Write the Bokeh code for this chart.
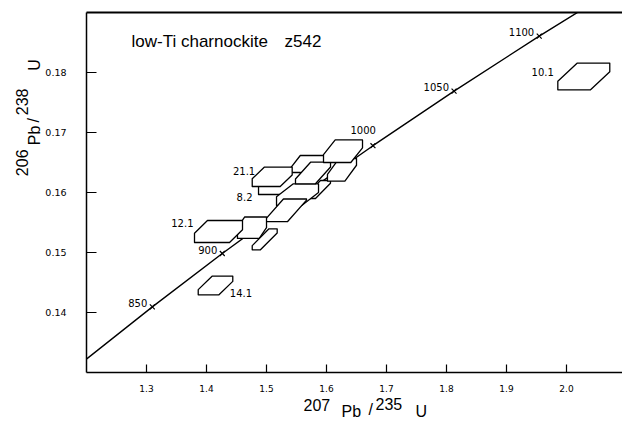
import math
from bokeh.plotting import figure
from bokeh.layouts import row, column
from bokeh.models import LinearAxis, FixedTicker, PrintfTickFormatter, Label, Range1d
from bokeh.core.properties import value
from bokeh.embed import file_html
from bokeh.resources import INLINE

# ---------------- data ----------------
# Concordia curve (age in Ma) and its ratios
conc_age = [750, 800, 850, 900, 950, 1000, 1050, 1100, 1150]
conc_pb207_u235 = [1.09308, 1.19873, 1.30971, 1.42630, 1.54876, 1.67741, 1.81255, 1.95452, 2.10364]
conc_pb206_u238 = [0.12338, 0.13213, 0.14094, 0.14983, 0.15878, 0.16780, 0.17690, 0.18606, 0.19530]
marked_ages = [850, 900, 1000, 1050, 1100]

# Zircon spots (drawn back to front); error boxes: centre, half widths, corner cut fractions
spot_label = ["", "8.2", "", "", "", "", "", "21.1", "", "", "12.1", "", "14.1", "10.1"]
spot_pb207_u235 = [1.5683, 1.5217, 1.5858, 1.5517, 1.5775, 1.6258, 1.6275, 1.5095, 1.5317, 1.4758, 1.4200, 1.4970, 1.4150, 2.0288]
spot_pb206_u238 = [0.16425, 0.16150, 0.16050, 0.15964, 0.16325, 0.16379, 0.16688, 0.16261, 0.15704, 0.15413, 0.15350, 0.15220, 0.14450, 0.17933]
spot_err_x = [0.0300, 0.0350, 0.0208, 0.0350, 0.0292, 0.0242, 0.0325, 0.0333, 0.0350, 0.0242, 0.0400, 0.0208, 0.0288, 0.0433]
spot_err_y = [0.00192, 0.00183, 0.00150, 0.00181, 0.00180, 0.00188, 0.00188, 0.00161, 0.00188, 0.00179, 0.00183, 0.00175, 0.00155, 0.00222]
spot_cut_x = [0.30, 0.30, 0.60, 0.40, 0.43, 0.40, 0.30, 0.30, 0.45, 0.25, 0.27, 0.67, 0.40, 0.37]
spot_cut_y = [0.60, 0.60, 0.85, 0.60, 0.78, 0.70, 0.65, 0.60, 0.95, 0.50, 0.58, 0.80, 0.72, 0.68]

x_ticks = [1.3, 1.4, 1.5, 1.6, 1.7, 1.8, 1.9, 2.0]
y_ticks = [0.14, 0.15, 0.16, 0.17, 0.18]

title_text = ["low-Ti charnockite", "z542"]
x_title = ["207", "Pb", "/", "235", "U"]
y_title = ["206", "Pb", "/", "238", "U"]

# ---------------- layout geometry (canvas px) ----------------
W, H = 622, 421
LEFT_W = 42            # strip for the y title
MAIN_H = 396           # main plot height; strip below for the x title
FL, FT, FB = 86, 12, 372  # frame left / top / bottom in canvas px

def bare(width, height, xr, yr):
    f = figure(width=width, height=height, output_backend="svg", toolbar_location=None,
               x_range=Range1d(*xr), y_range=Range1d(*yr), x_axis_type=None, y_axis_type=None,
               min_border=0, min_border_left=0, min_border_right=0, min_border_top=0, min_border_bottom=0)
    f.outline_line_color = None
    f.background_fill_color = "white"
    f.border_fill_color = "white"
    return f

# ---------------- main plot ----------------
p = figure(width=W - LEFT_W, height=MAIN_H, output_backend="svg", toolbar_location=None,
           x_range=Range1d(1.2, 2.0933), y_range=Range1d(0.13, 0.19),
           x_axis_type=None, y_axis_type=None,
           min_border_left=FL - LEFT_W, min_border_right=0, min_border_top=FT,
           min_border_bottom=MAIN_H - FB)
p.outline_line_color = None
p.background_fill_color = "white"
p.border_fill_color = "white"

xaxis = LinearAxis(ticker=FixedTicker(ticks=x_ticks), formatter=PrintfTickFormatter(format="%.1f"))
xaxis.major_tick_in = 8
xaxis.major_tick_out = 0
xaxis.minor_tick_in = 0
xaxis.minor_tick_out = 0
xaxis.major_label_standoff = 12
xaxis.major_label_text_font = "DejaVu Sans"
xaxis.major_label_text_font_size = "9px"
xaxis.major_label_text_color = "black"
xaxis.axis_line_width = 1.5
xaxis.major_tick_line_width = 1.2
p.add_layout(xaxis, "below")

yaxis = LinearAxis(ticker=FixedTicker(ticks=y_ticks), formatter=PrintfTickFormatter(format="%.2f"))
yaxis.major_tick_in = 10
yaxis.major_tick_out = 0
yaxis.minor_tick_in = 0
yaxis.minor_tick_out = 0
yaxis.major_label_standoff = 20
yaxis.major_label_orientation = "horizontal"
yaxis.major_label_text_font = "DejaVu Sans"
yaxis.major_label_text_font_size = "9.5px"
yaxis.major_label_text_color = "black"
yaxis.axis_line_width = 1.5
yaxis.major_tick_line_width = 1.2
p.add_layout(yaxis, "left")

top = LinearAxis(ticker=FixedTicker(ticks=[]))
top.major_tick_in = 0
top.major_tick_out = 0
top.minor_tick_in = 0
top.minor_tick_out = 0
top.major_label_text_font_size = "0px"
top.major_label_standoff = 0
top.axis_line_width = 2
p.add_layout(top, "above")

# concordia
p.line(conc_pb207_u235, conc_pb206_u238, line_color="black", line_width=1.4)

idx = [conc_age.index(a) for a in marked_ages]
mx = [conc_pb207_u235[i] for i in idx]
my = [conc_pb206_u238[i] for i in idx]
p.scatter(mx, my, marker="x", size=7, line_color="black", line_width=1.2)

std = [k for k, a in enumerate(marked_ages) if a != 1000]
p.text([mx[k] for k in std], [my[k] for k in std], text=[str(marked_ages[k]) for k in std],
       text_font=value("DejaVu Sans"), text_font_size="10px", text_color="black",
       text_align="right", text_baseline="middle", x_offset=-5, y_offset=-4)
k1000 = marked_ages.index(1000)
p.text([mx[k1000]], [my[k1000]], text=["1000"],
       text_font=value("DejaVu Sans"), text_font_size="10px", text_color="black",
       text_align="right", text_baseline="middle", x_offset=3, y_offset=-16)

# error boxes (hexagons: rectangle with top-left and bottom-right corners cut)
xs, ys = [], []
for xc, yc, ex, ey, fx, fy in zip(spot_pb207_u235, spot_pb206_u238, spot_err_x, spot_err_y, spot_cut_x, spot_cut_y):
    x0, x1, y0, y1 = xc - ex, xc + ex, yc - ey, yc + ey
    a = fx * 2 * ex
    v = fy * 2 * ey
    xs.append([x0 + a, x1, x1, x1 - a, x0, x0])
    ys.append([y1, y1, y0 + v, y0, y0, y1 - v])
p.patches(xs, ys, fill_color="white", line_color="black", line_width=1.3, line_join="round")

# spot labels
placement = {
    "21.1": ("x0", "y1", "right", 3, 4),
    "8.2": ("x0", "y0", "right", -6, 3),
    "12.1": ("x0", "y1", "right", -1, 2),
    "14.1": ("x1", "y0", "left", -3, -2),
    "10.1": ("x0", "y1", "right", -4, 9),
}
for i, lab in enumerate(spot_label):
    if not lab:
        continue
    cx, cy, al, xo, yo = placement[lab]
    xc, yc, ex, ey = spot_pb207_u235[i], spot_pb206_u238[i], spot_err_x[i], spot_err_y[i]
    lx = xc - ex if cx == "x0" else xc + ex
    ly = yc + ey if cy == "y1" else yc - ey
    p.text([lx], [ly], text=[lab], text_font=value("DejaVu Sans"), text_font_size="10px",
           text_color="black", text_align=al, text_baseline="middle", x_offset=xo, y_offset=yo)

# sample title inside the frame (cx = left edge, cy = vertical middle, canvas px)
def inner_label(txt, cx, cy, size):
    p.add_layout(Label(x=cx - FL, y=FB - cy, x_units="screen", y_units="screen", text=txt,
                       text_font="Liberation Sans", text_font_size=size, text_color="black",
                       text_align="left", text_baseline="middle"))
inner_label(title_text[0], 131, 41, "17px")
inner_label(title_text[1], 284, 41, "17px")

# ---------------- y-axis title strip (rotated, reading upward) ----------------
left = bare(LEFT_W, MAIN_H, (0, LEFT_W), (0, MAIN_H))
y_pos = {"206": (21, 180), "Pb": (34, 146), "/": (33, 121), "238": (21, 113), "U": (34, 64)}
for t in y_title:
    cx, cy = y_pos[t]
    left.text([cx], [MAIN_H - cy], text=[t], text_font=value("Liberation Sans"), text_font_size="16px",
              text_color="black", text_align="left", text_baseline="middle", angle=math.pi / 2)

# ---------------- x-axis title strip ----------------
BOT_H = H - MAIN_H
bottom = bare(W, BOT_H, (0, W), (0, BOT_H))
x_pos = {"207": (303, 404), "Pb": (341, 411), "/": (368, 409), "235": (375, 403.5), "U": (415, 411)}
for t in x_title:
    cx, cy = x_pos[t]
    bottom.text([cx], [H - cy], text=[t], text_font=value("Liberation Sans"), text_font_size="16px",
                text_color="black", text_align="left", text_baseline="middle")

layout = column(row(left, p, spacing=0), bottom, spacing=0)
open("out.html", "w").write(file_html(layout, INLINE))
